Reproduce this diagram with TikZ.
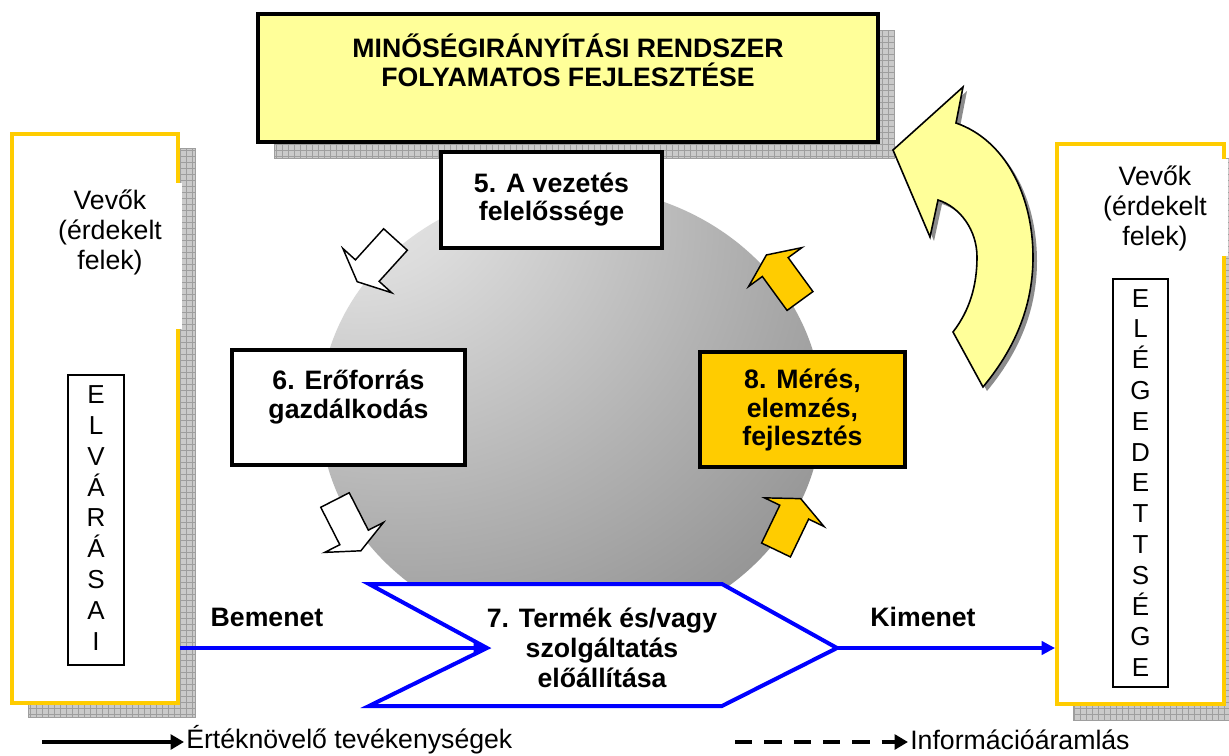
\documentclass[tikz,border=0pt]{standalone}
\usepackage{fontspec}
\setmainfont{Liberation Sans}
\usetikzlibrary{arrows.meta,fit}
\definecolor{lightyel}{HTML}{FFFF99}
\definecolor{gold}{HTML}{FFCC00}
\definecolor{pureblue}{HTML}{0000FF}
\definecolor{shfill}{HTML}{CACACA}
\definecolor{shgrid}{HTML}{9E9E9E}
\definecolor{arrshadow}{HTML}{8C8C8C}
\definecolor{spA}{HTML}{EEEEEE}
\definecolor{spB}{HTML}{DCDCDC}
\definecolor{spC}{HTML}{B2B2B2}
\definecolor{spD}{HTML}{929292}
\definecolor{spE}{HTML}{7A7A7A}
\definecolor{spF}{HTML}{6A6A6A}
\pgfdeclareradialshading{sphereshade}{\pgfpoint{-25bp}{30bp}}{color(0bp)=(spA); color(12bp)=(spB); color(32bp)=(spC); color(48bp)=(spD); color(62bp)=(spE); color(76bp)=(spF); color(100bp)=(spF)}
\newcommand\myshadow[4]{%
  \fill[shfill] (#1,#2) rectangle (#3,#4);
  \draw[shgrid, line width=0.4pt, step=4.5pt] (#1,#4) grid (#3,#2);
  \draw[shgrid, line width=0.6pt] (#1,#2) rectangle (#3,#4);}
\newcommand\blockarr[4]{%
  \begin{scope}[shift={(#1,#2)}, rotate=#3]
    \draw[#4] (0pt,-12pt) -- (31.5pt,-12pt) -- (31.5pt,-24.75pt) -- (42.75pt,0pt)
      -- (31.5pt,24.75pt) -- (31.5pt,12pt) -- (0pt,12pt) -- cycle;
  \end{scope}}
\begin{document}
\begin{tikzpicture}[x=0.75pt, y=-0.75pt,
  txt/.style={inner sep=0pt, align=center, font=\fontsize{20}{22.5}\selectfont},
  btxt/.style={txt, font=\fontsize{20}{21.5}\selectfont\bfseries},
  coltxt/.style={inner sep=0pt, align=center, font=\fontsize{19.5}{23.1}\selectfont},
  blackbox/.style={draw=black, line width=2.4pt, inner sep=0pt},
  ybox/.style={draw=gold, line width=3pt, fill=white, inner sep=0pt},
  inbox/.style={draw=black, line width=1pt, inner sep=0pt},
  flow/.style={draw=pureblue, line width=2.4pt, -{Triangle[length=10pt,width=10pt]}},
  chev/.style={draw=pureblue, line width=3pt, fill=white, line join=miter},
  whitearr/.style={draw=black, fill=white, line width=1.1pt, line join=miter},
  goldarr/.style={draw=black, fill=gold, line width=1.1pt, line join=miter},
  legline/.style={draw=black, line width=3pt, -{Triangle[length=10pt,width=11pt]}}
]
\useasboundingbox (0,0) rectangle (1229,756);
\clip (0,0) rectangle (1229,756);
\fill[white] (0,0) rectangle (1229,756);

% shadows
\myshadow{274}{30}{894}{158}
\myshadow{28}{148}{195}{717}
\myshadow{1073}{158}{1240}{720}

% title
\node[blackbox, line width=3pt, fill=lightyel, fit={(258,14)(878,142)}] (title) {};
\node[btxt, font=\fontsize{20}{21.75}\selectfont\bfseries] (titletext) at (568,60) {MINŐSÉGIRÁNYÍTÁSI RENDSZER\\FOLYAMATOS FEJLESZTÉSE};

% sphere
\path[shading=sphereshade] (571,411) ellipse [x radius=188.25pt, y radius=168.75pt];

% process boxes
\node[blackbox, fill=white, fit={(441,152)(662,248)}] (b5) {};
\node[btxt] (t5) at (551.5,199.5) {5. A vezetés\\felelőssége};
\node[blackbox, fill=white, fit={(232,350)(465,465)}] (b6) {};
\node[btxt] (t6) at (348.5,397) {6. Erőforrás\\gazdálkodás};
\node[blackbox, fill=gold, fit={(700,352)(905,467)}] (b8) {};
\node[btxt] (t8) at (802.5,410) {8. Mérés,\\elemzés,\\fejlesztés};

% left customer box
\node[ybox, fit={(12,134)(178,703)}] (lb) {};
\fill[white] (165,183) rectangle (182,329);
\node[txt] (lvevok) at (110,232) {Vevők\\(érdekelt\\felek)};
\node[inbox, fit={(68,375)(124,665)}] (lin) {};
\node[coltxt] (lintxt) at (96,518) {E\\L\\V\\Á\\R\\Á\\S\\A\\I};

% right customer box
\node[ybox, fit={(1057,144)(1224,704)}] (rb) {};
\fill[white] (1215,159) rectangle (1228,256);
\node[txt] (rvevok) at (1155,208) {Vevők\\(érdekelt\\felek)};
\node[inbox, fit={(1113,279)(1168,687)}] (rin) {};
\node[coltxt] (rintxt) at (1140.5,483) {E\\L\\É\\G\\E\\D\\E\\T\\T\\S\\É\\G\\E};

% chevron 7
\coordinate (chin) at (487,648);
\coordinate (chout) at (837,648);
\draw[chev] (369,584) -- (722,584) -- (chout) -- (722,706) -- (369,706) -- (chin) -- cycle;
\node[btxt, font=\fontsize{20}{22.5}\selectfont\bfseries] (t7) at (602,648) {7. Termék és/vagy\\szolgáltatás\\előállítása};

% input / output
\draw[flow] (lb.east |- chin) -- (chin);
\draw[flow] (chout) -- (rb.west |- chout);
\node[btxt] (bem) at (267,617) {Bemenet};
\node[btxt] (kim) at (923,617) {Kimenet};

% cycle arrows
\blockarr{395.5}{239.5}{-132.2}{whitearr}
\blockarr{335}{500}{-63}{whitearr}
\blockarr{776}{550}{64.3}{goldarr}
\blockarr{800}{301}{126.1}{goldarr}

% big curved arrow
\begin{scope}[shift={(4,4)}]
\fill[arrshadow] (893,150) -- (963,87) -- (956,123) .. controls (1005,140) and (1033,195) .. (1033,257)
  .. controls (1033,310) and (1012,352) .. (983,387) -- (953,332)
  .. controls (970,310) and (977,285) .. (977,257) .. controls (977,230) and (960,207) .. (938,200)
  -- (930,237) -- cycle;
\end{scope}
\draw[fill=lightyel, draw=black, line width=1.2pt, line join=miter] (893,150) -- (963,87) -- (956,123) .. controls (1005,140) and (1033,195) .. (1033,257)
  .. controls (1033,310) and (1012,352) .. (983,387) -- (953,332)
  .. controls (970,310) and (977,285) .. (977,257) .. controls (977,230) and (960,207) .. (938,200)
  -- (930,237) -- cycle;

% legend
\coordinate (ls1) at (42,742);
\coordinate (ls2) at (184,742);
\draw[legline] (ls1) -- (ls2);
\node[txt, anchor=west] (lt1) at (186,740) {Értéknövelő tevékenységek};
\coordinate (ld1) at (735,742);
\coordinate (ld2) at (908,742);
\draw[legline, dash pattern=on 13pt off 9pt] (ld1) -- (ld2);
\node[txt, anchor=west] (lt2) at (910,740) {Információáramlás};
\end{tikzpicture}
\end{document}
